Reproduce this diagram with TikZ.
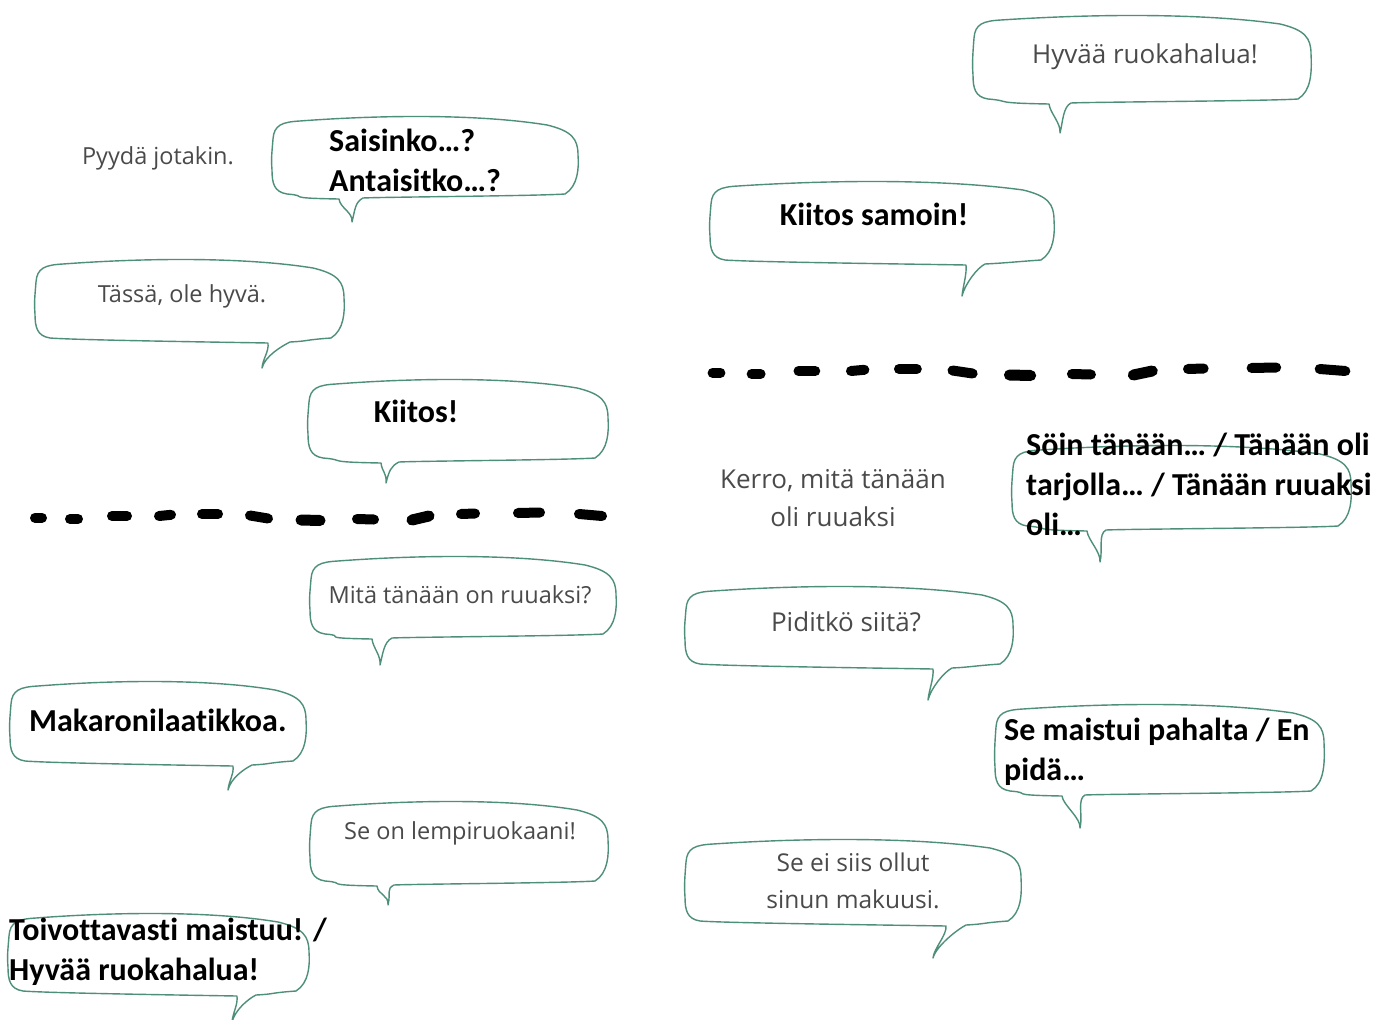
\documentclass[tikz,border=0pt]{standalone}
\usepackage{fontspec}
\newfontfamily\carl{Carlito}[Ligatures=NoCommon]
\newfontfamily\opensans{Open Sans}
\definecolor{bubcol}{HTML}{4E8F7A}
\definecolor{litecol}{HTML}{4A4A4A}
\tikzset{
  bub/.style={draw=bubcol, line width=1.4pt, line join=round, fill=white},
  boldtxt/.style={inner sep=0pt, align=left, font=\carl\bfseries\fontsize{32}{40}\selectfont, text=black},
  litetxt/.style={inner sep=0pt, align=center, font=\opensans\fontsize{23.5}{38}\selectfont, text=litecol},
  litebig/.style={litetxt, font=\opensans\fontsize{26}{38}\selectfont},
  litemid/.style={litetxt, font=\opensans\fontsize{24.5}{37}\selectfont},
  blob/.style={line width=10pt, line cap=round, black},
}
% x1 y1 x2 y2 tail-left-base tail-right-base tipx tipy
\newcommand{\speech}[8]{%
  \draw[bub] ({#1+1},{#2+22})
    .. controls ({#1+2},{#2+8}) and ({#1+10},{#2+5}) .. ({#1+28},{#2+4})
    .. controls ({#1+0.4*(#3-#1)},{#2-3}) and ({#3-0.3*(#3-#1)},{#2-2}) .. ({#3-30},{#2+8})
    .. controls ({#3-5},{#2+14}) and ({#3+1},{#2+22}) .. ({#3+1},{#2+38})
    .. controls ({#3+2},{#4-30}) and ({#3+1},{#4-12}) .. ({#3-12},{#4-4})
    .. controls ({#3-40},{#4-2}) and ({#6+20},{#4-1}) .. ({#6},{#4})
    .. controls ({#6-8},{#4+4}) and ({#7+3},{#8-12}) .. ({#7},{#8})
    .. controls ({#7+1},{#8-10}) and ({#5+1},{#4+10}) .. ({#5},{#4+1})
    .. controls ({#5-60},{#4}) and ({#1+40},{#4-2}) .. ({#1+15},{#4-4})
    .. controls ({#1+2},{#4-6}) and ({#1},{#4-15}) .. ({#1},{#4-28})
    .. controls ({#1-1},{#4-40}) and ({#1},{#2+35}) .. ({#1+1},{#2+22}) -- cycle;
}
\newcommand{\dashrow}{%
  \draw[blob] (5,0.8) -- (12,0.8);
  \draw[blob] (40,2) -- (48,2);
  \draw[blob] (82,-1) -- (97,-1);
  \draw[blob] (129,-1) -- (141,-2.2);
  \draw[blob] (172,-3) -- (188,-3);
  \draw[blob] (220,-1.5) -- (238,1.5);
  \draw[blob, line width=11pt] (271,3) -- (290,3.5);
  \draw[blob] (327,2) -- (344,2.5);
  \draw[blob, line width=11pt] (382,3) -- (399,-1);
  \draw[blob] (431,-3) -- (445,-3.5);
  \draw[blob] (488,-4) -- (510,-4.5);
  \draw[blob] (549,-3) -- (572,-1);
}
\begin{document}
\begin{tikzpicture}[x=1pt,y=-1pt]
\useasboundingbox (0,0) rectangle (1388,1019);
\fill[white] (0,0) rectangle (1388,1019);

% left column
\node[litetxt] (pyyda) at (158,158) {Pyydä jotakin.};
\speech{272}{117}{577}{198}{339}{363}{352}{222}
\node[boldtxt, anchor=west] (saisinko) at (329,160) {Saisinko…?\\Antaisitko…?};

\speech{35}{260}{343}{342}{268}{290}{262}{368}
\node[litetxt] (tassa) at (182,296) {Tässä, ole hyvä.};

\speech{308}{380}{607}{462}{381}{399}{386}{483}
\node[boldtxt, anchor=center] (kiitos) at (416,411) {Kiitos!};

\begin{scope}[shift={(30,517)}]
  \dashrow
\end{scope}

\speech{310}{557}{615}{638}{372}{392}{380}{665}
\node[litetxt] (mita) at (460,595) {Mitä tänään on ruuaksi?};

\speech{10}{682}{305}{765}{233}{252}{228}{790}
\node[boldtxt, anchor=west] (makaroni) at (29,720) {Makaronilaatikkoa.};

\speech{310}{802}{607}{885}{377}{394}{388}{905}
\node[litetxt] (lempi) at (460,833) {Se on lempiruokaani!};

\speech{8}{914}{308}{995}{237}{256}{232}{1022}
\node[boldtxt, anchor=west] (toivo) at (9,952) {Toivottavasti maistuu! /\\Hyvää ruokahalua!};

% right column
\speech{973}{16}{1310}{103}{1049}{1071}{1060}{133}
\node[litebig] (hyvaa) at (1145,57) {Hyvää ruokahalua!};

\speech{710}{182}{1053}{264}{966}{985}{962}{296}
\node[boldtxt, anchor=center] (samoin) at (874,214) {Kiitos samoin!};

\begin{scope}[shift={(707,372)}, xscale=1.116]
  \dashrow
\end{scope}

\node[litebig] (kerro) at (833,498) {Kerro, mitä tänään\\oli ruuaksi};
\speech{1012}{446}{1350}{530}{1087}{1106}{1100}{562}
\node[boldtxt, anchor=west] (soin) at (1026,484) {Söin tänään… / Tänään oli\\tarjolla… / Tänään ruuaksi\\oli…};

\speech{685}{587}{1012}{668}{933}{952}{928}{700}
\node[litebig] (piditko) at (846,622) {Piditkö siitä?};

\speech{995}{705}{1323}{795}{1062}{1085}{1080}{828}
\node[boldtxt, anchor=west] (maistui) at (1004,752) {Se maistui pahalta / En\\pidä…};

\speech{685}{840}{1020}{925}{946}{966}{933}{958}
\node[litemid] (siis) at (853,881) {Se ei siis ollut\\sinun makuusi.};
\end{tikzpicture}
\end{document}
